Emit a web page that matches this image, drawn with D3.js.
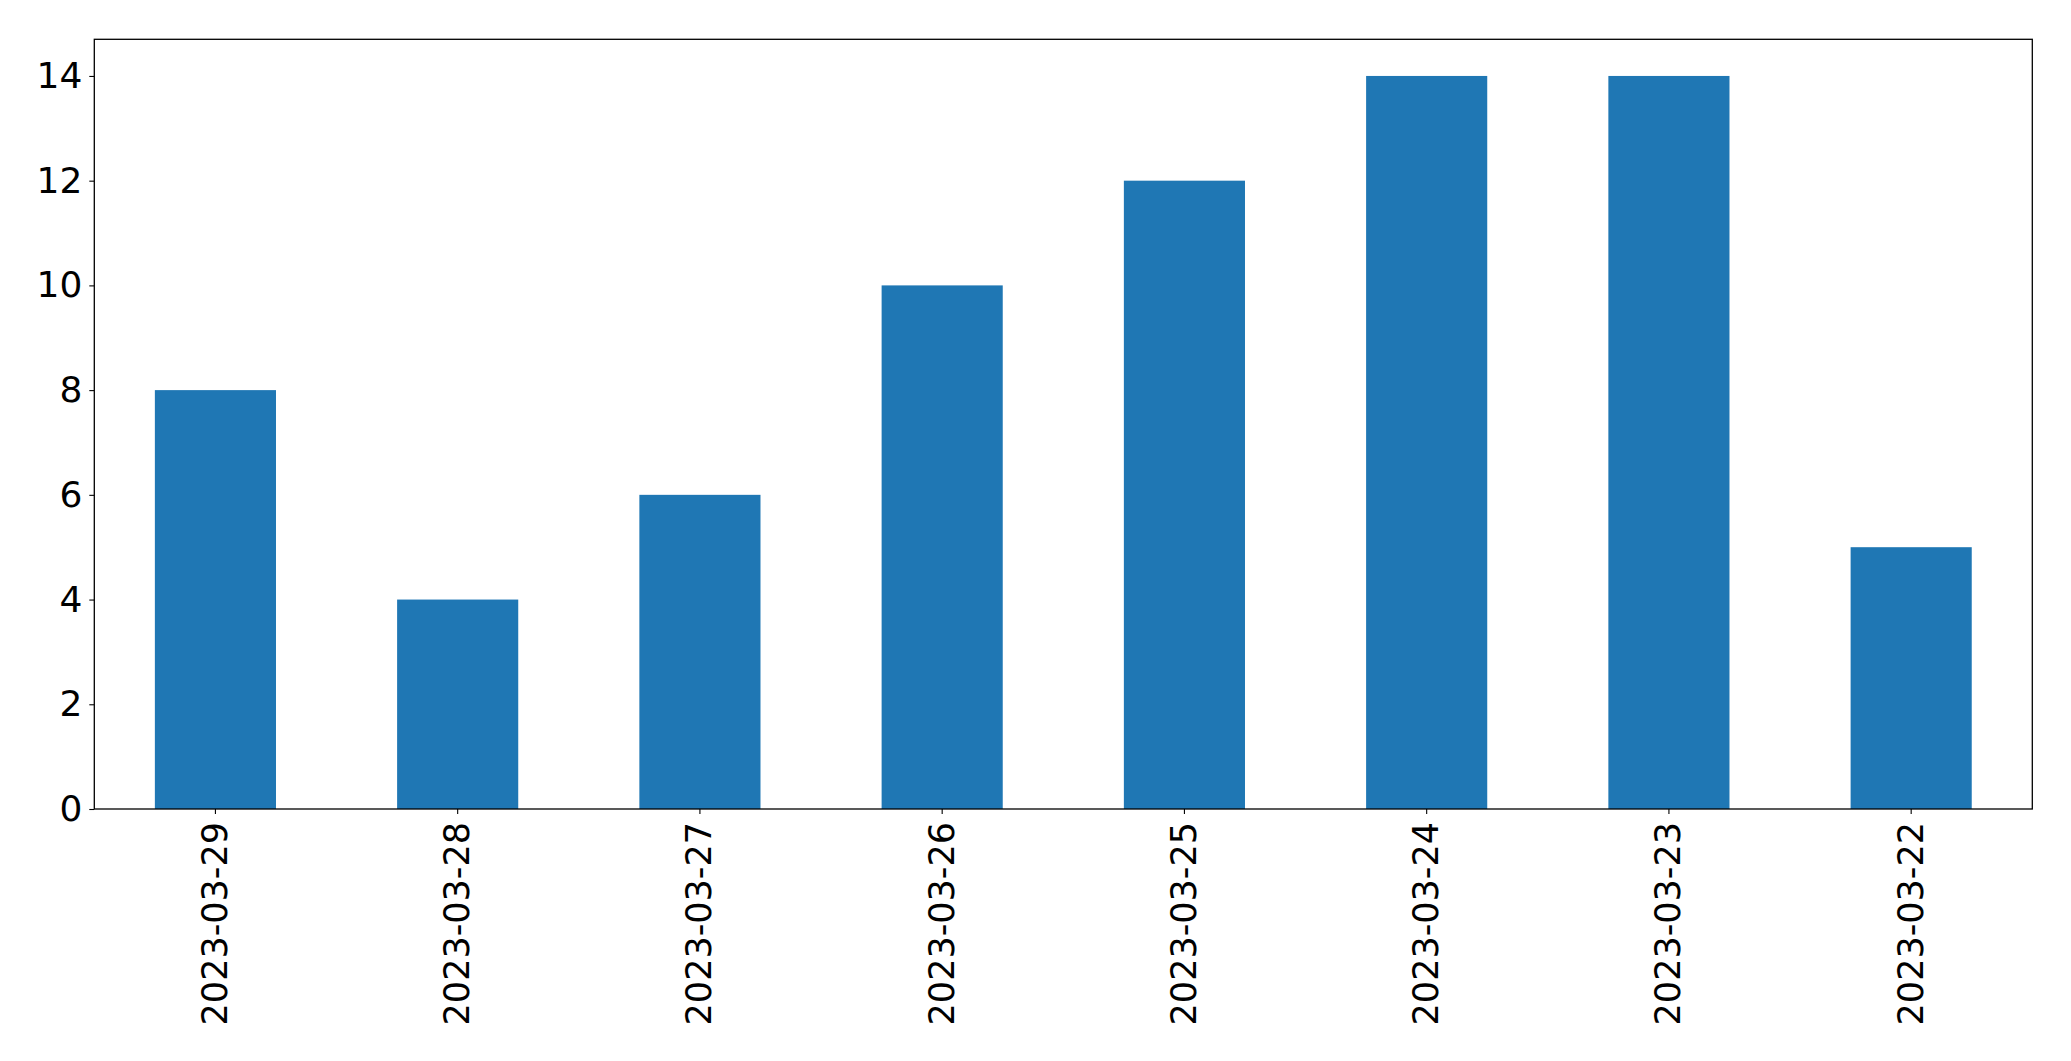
<!DOCTYPE html>
<html><head><meta charset="utf-8">
<script src="https://cdn.jsdelivr.net/npm/d3@7"></script>
<style>body{margin:0;background:#fff}svg{display:block}text{font-family:'DejaVu Sans',sans-serif}</style>
</head><body>
<svg id="c" width="2071" height="1061"></svg>
<script>
const categories = ["2023-03-29","2023-03-28","2023-03-27","2023-03-26","2023-03-25","2023-03-24","2023-03-23","2023-03-22"];
const values = [8,4,6,10,12,14,14,5];
const yTicks = [0,2,4,6,8,10,12,14];

const L=94.3,R=2032.3,T=39.3,B=809;
const svg=d3.select("#c");
const x=d3.scaleBand().domain(categories).range([L,R]).paddingInner(0.5).paddingOuter(0.25);
const y=d3.scaleLinear().domain([0,14.7]).range([B,T]);

svg.append("g").selectAll("rect").data(values).join("rect")
  .attr("x",(d,i)=>x(categories[i])).attr("width",x.bandwidth())
  .attr("y",d=>y(d)).attr("height",d=>B-y(d)).attr("fill","#1f77b4");

const ya=svg.append("g").attr("transform",`translate(${L},0)`)
  .call(d3.axisLeft(y).tickValues(yTicks).tickSize(5).tickPadding(7).tickFormat(d3.format("d")));
ya.select(".domain").remove();
ya.selectAll("text").attr("font-size","36px").attr("fill","#000").attr("font-family","'DejaVu Sans',sans-serif");
ya.selectAll("line").attr("stroke","#000").attr("stroke-width",1.1);

const xa=svg.append("g").attr("transform",`translate(0,${B})`)
  .call(d3.axisBottom(x).tickSize(5).tickPadding(0));
xa.select(".domain").remove();
xa.selectAll("line").attr("stroke","#000").attr("stroke-width",1.1);
xa.selectAll("text").attr("font-size","35px").attr("fill","#000").attr("font-family","'DejaVu Sans',sans-serif")
  .attr("transform","translate(0,13) rotate(-90)").attr("text-anchor","end").attr("dy","0.33em").attr("y",0).attr("x",0);

svg.append("rect").attr("x",L).attr("y",T).attr("width",R-L).attr("height",B-T)
  .attr("fill","none").attr("stroke","#000").attr("stroke-width",1.3);
</script>
</body></html>
